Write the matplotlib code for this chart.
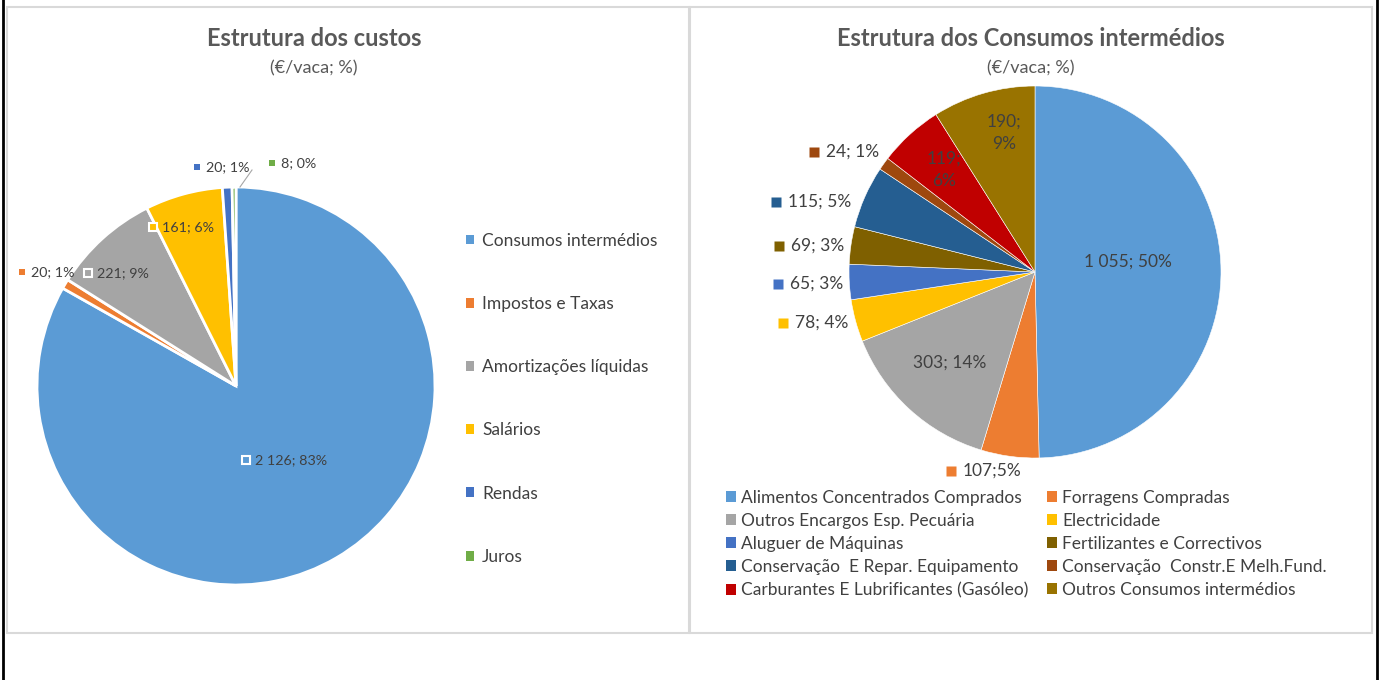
import matplotlib
matplotlib.use("Agg")
import matplotlib.pyplot as plt
from matplotlib.patches import Rectangle, Patch

plt.rcParams['font.family'] = ['Lato', 'DejaVu Sans']

# ---------------- data ----------------
cost_labels = ["Consumos intermédios", "Impostos e Taxas", "Amortizações líquidas",
               "Salários", "Rendas", "Juros"]
cost_values = [2126, 20, 221, 161, 20, 8]
cost_pct = [83, 1, 9, 6, 1, 0]
cost_text = ["2 126; 83%", "20; 1%", "221; 9%", "161; 6%", "20; 1%", "8; 0%"]
cost_colors = ["#5B9BD5", "#ED7D31", "#A5A5A5", "#FFC000", "#4472C4", "#70AD47"]

ci_labels = ["Alimentos Concentrados Comprados", "Forragens Compradas",
             "Outros Encargos Esp. Pecuária", "Electricidade", "Aluguer de Máquinas",
             "Fertilizantes e Correctivos", "Conservação  E Repar. Equipamento",
             "Conservação  Constr.E Melh.Fund.", "Carburantes E Lubrificantes (Gasóleo)",
             "Outros Consumos intermédios"]
ci_values = [1055, 107, 303, 78, 65, 69, 115, 24, 119, 190]
ci_text = ["1 055; 50%", "107;5%", "303; 14%", "78; 4%", "65; 3%", "69; 3%",
           "115; 5%", "24; 1%", "119;\n6%", "190;\n9%"]
ci_colors = ["#5B9BD5", "#ED7D31", "#A5A5A5", "#FFC000", "#4472C4", "#7F6000",
             "#255E91", "#9E480E", "#C00000", "#997300"]

W, H = 1380, 680
fig = plt.figure(figsize=(W / 100, H / 100), dpi=100)
fig.patch.set_facecolor("white")

TXT = "#404040"
TITLE = "#595959"

# figure-level frame lines
bg = fig.add_axes([0, 0, 1, 1])
bg.set_xlim(0, W)
bg.set_ylim(H, 0)
bg.axis("off")
for (x0, x1) in [(7, 689), (690, 1372)]:
    bg.add_patch(Rectangle((x0, 7), x1 - x0, 626, fill=False, ec="#D9D9D9", lw=1.5))
bg.plot([3, 3], [0, H], color="black", lw=2)
bg.plot([1377, 1377], [0, H], color="black", lw=2)


def make_pie_axes(cx, cy, r, box):
    x0, y0, x1, y1 = box
    ax = fig.add_axes([x0 / W, 1 - y1 / H, (x1 - x0) / W, (y1 - y0) / H])
    ax.axis("off")

    def px(x, y):
        return ((x - cx) / r, (cy - y) / r)

    def fix():
        ax.set_aspect("auto")
        ax.set_xlim((x0 - cx) / r, (x1 - cx) / r)
        ax.set_ylim((cy - y1) / r, (cy - y0) / r)
    return ax, px, fix


# ---------------- left pie ----------------
axL, pxL, fixL = make_pie_axes(236, 386, 199, (8, 8, 688, 632))
axL.pie(cost_values, colors=cost_colors, startangle=90, counterclock=False,
        radius=1, wedgeprops=dict(edgecolor="white", linewidth=2), frame=False)
fixL()

left_label_px = [(246, 460), (22, 272), (88, 273), (153, 227), (197, 167), (272, 163)]
left_marker_edge = ["white", None, "white", "white", None, None]
for i, (x, y) in enumerate(left_label_px):
    mx, my = pxL(x, y)
    ec = left_marker_edge[i]
    axL.plot([mx], [my], marker="s", ms=6 if ec else 5, mfc=cost_colors[i],
             mec=ec if ec else cost_colors[i], mew=1.5 if ec else 0, ls="none")
    tx, ty = pxL(x + 9, y)
    axL.text(tx, ty, cost_text[i], color=TXT, fontsize=10.3, va="center", ha="left")
axL.plot(*zip(pxL(240, 187), pxL(252, 170)), color="#A6A6A6", lw=0.8)

fig.text(314 / W, 1 - 38 / H, "Estrutura dos custos", ha="center", va="center",
         fontsize=17, fontweight="bold", color=TITLE)
fig.text(314 / W, 1 - 68 / H, "(€/vaca; %)", ha="center", va="center",
         fontsize=13, color=TITLE)

handlesL = [Patch(facecolor=c, edgecolor="none") for c in cost_colors]
fig.legend(handlesL, cost_labels, loc="upper left",
           bbox_to_anchor=(450 / W, 1 - 217 / H), frameon=False,
           fontsize=12.5, labelcolor=TXT, handlelength=0.5, handleheight=0.5,
           handletextpad=0.45, labelspacing=2.72)

# ---------------- right pie ----------------
axR, pxR, fixR = make_pie_axes(1035, 272, 186, (690, 8, 1372, 632))
axR.pie(ci_values, colors=ci_colors, startangle=90, counterclock=False,
        radius=1, wedgeprops=dict(edgecolor="white", linewidth=0.4), frame=False)
fixR()

inside = {0: (1128, 262), 2: (950, 363), 8: (944, 170), 9: (1004, 133)}
outside = {1: (951, 471), 3: (783, 323), 4: (778, 284), 5: (779, 246),
           6: (776, 202), 7: (814, 152)}
for i, (x, y) in inside.items():
    tx, ty = pxR(x, y)
    axR.text(tx, ty, ci_text[i], color=TXT, fontsize=12.5, ha="center", va="center",
             linespacing=1.45)
for i, (x, y) in outside.items():
    mx, my = pxR(x, y)
    axR.plot([mx], [my], marker="s", ms=7.5, mfc=ci_colors[i], mec="none", ls="none")
    tx, ty = pxR(x + 12, y)
    axR.text(tx, ty, ci_text[i], color=TXT, fontsize=12.5, ha="left", va="center")

fig.text(1031 / W, 1 - 38 / H, "Estrutura dos Consumos intermédios", ha="center",
         va="center", fontsize=17, fontweight="bold", color=TITLE)
fig.text(1031 / W, 1 - 68 / H, "(€/vaca; %)", ha="center", va="center",
         fontsize=13, color=TITLE)

n = len(ci_labels)
handlesR = [Patch(facecolor=c, edgecolor="none") for c in ci_colors]
idx = list(range(0, n, 2)) + list(range(1, n, 2))
fig.legend([handlesR[i] for i in idx], [ci_labels[i] for i in idx],
           loc="upper left", ncol=2, bbox_to_anchor=(710 / W, 1 - 474 / H),
           frameon=False, fontsize=12.5, labelcolor=TXT, handlelength=0.6,
           handleheight=0.6, handletextpad=0.3, labelspacing=0.41,
           columnspacing=1.05)

fig.savefig("out.png", dpi=100, facecolor="white")
